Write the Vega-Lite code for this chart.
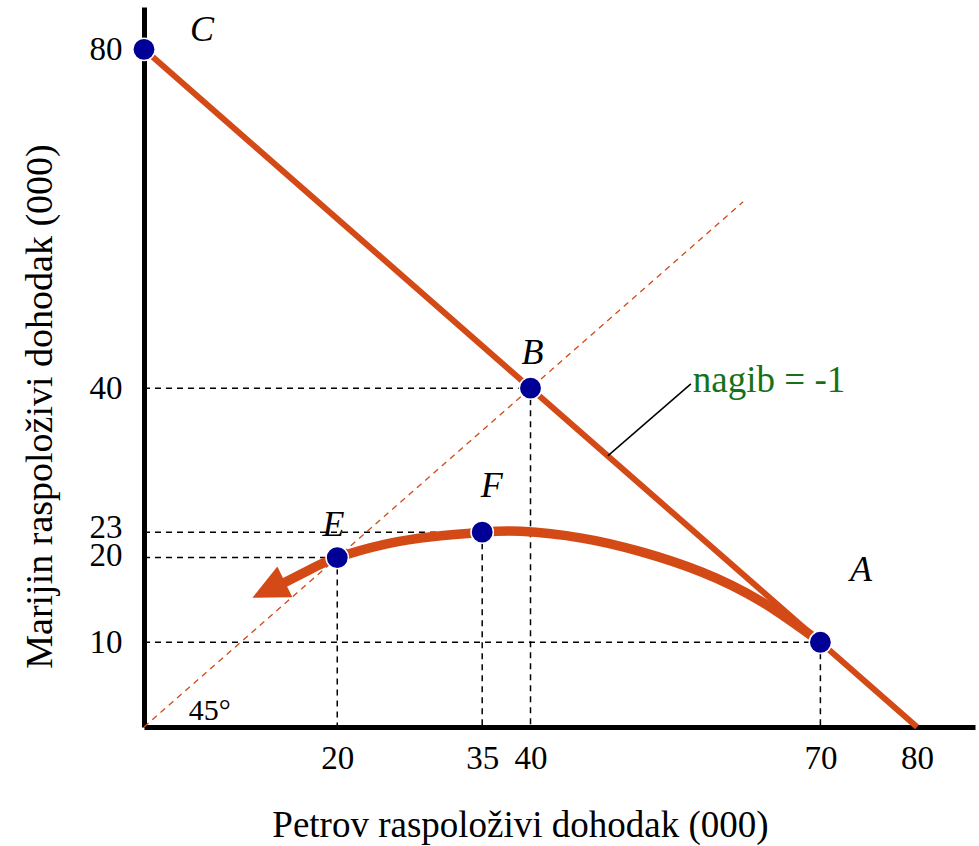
{
  "$schema": "https://vega.github.io/schema/vega-lite/v6.json",
  "width": 831,
  "height": 720,
  "autosize": "none",
  "padding": {"left": 144, "top": 7, "right": 4, "bottom": 119},
  "background": "white",
  "config": {"view": {"stroke": null}},
  "datasets": {
    "budget": [{"x": 0, "y": 80}, {"x": 80, "y": 0}],
    "diag": [{"x": 0, "y": 0}, {"x": 62, "y": 62}],
    "curve": [
      {"x": 14.3, "y": 16.9}, {"x": 17.2, "y": 18.6}, {"x": 20, "y": 20},
      {"x": 25.0, "y": 21.6}, {"x": 30.0, "y": 22.5}, {"x": 35, "y": 23},
      {"x": 39.0, "y": 23.1}, {"x": 45.3, "y": 22.3}, {"x": 51.4, "y": 20.7},
      {"x": 57.7, "y": 18.3}, {"x": 63.9, "y": 14.8}, {"x": 70, "y": 10}
    ],
    "arrow": [{"x": 12.9, "y": 16.2}],
    "guides": [
      {"x": 0, "y": 40, "x2": 40, "y2": 40}, {"x": 40, "y": 40, "x2": 40, "y2": 0},
      {"x": 0, "y": 23, "x2": 35, "y2": 23}, {"x": 35, "y": 23, "x2": 35, "y2": 0},
      {"x": 0, "y": 20, "x2": 20, "y2": 20}, {"x": 20, "y": 20, "x2": 20, "y2": 0},
      {"x": 0, "y": 10, "x2": 70, "y2": 10}, {"x": 70, "y": 10, "x2": 70, "y2": 0}
    ],
    "leader": [{"x": 48, "y": 32, "x2": 56.6, "y2": 40.5}],
    "points": [
      {"x": 0, "y": 80, "name": "C"}, {"x": 40, "y": 40, "name": "B"},
      {"x": 20, "y": 20, "name": "E"}, {"x": 35, "y": 23, "name": "F"},
      {"x": 70, "y": 10, "name": "A"}
    ],
    "letters": [
      {"x": 6.0, "y": 82.3, "label": "C"}, {"x": 40.2, "y": 44.2, "label": "B"},
      {"x": 36.0, "y": 28.4, "label": "F"}, {"x": 19.6, "y": 23.9, "label": "E"},
      {"x": 74.2, "y": 18.5, "label": "A"}
    ],
    "slope": [{"x": 56.8, "y": 40.9, "label": "nagib = -1"}],
    "angle": [{"x": 6.8, "y": 1.9, "label": "45°"}]
  },
  "encoding": {
    "x": {
      "field": "x", "type": "quantitative",
      "scale": {"domain": [0, 86], "nice": false, "zero": false},
      "axis": {
        "values": [20, 35, 40, 70, 80], "ticks": false, "grid": false,
        "domainColor": "black", "domainWidth": 5,
        "labelFont": "Liberation Serif", "labelFontSize": 33, "labelColor": "black",
        "labelPadding": 15, "labelFlush": false, "labelOverlap": false,
        "title": "Petrov raspoloživi dohodak (000)",
        "titleFont": "Liberation Serif", "titleFontSize": 37, "titleFontWeight": "normal",
        "titleColor": "black", "titleX": 376, "titleY": 98,
        "titleBaseline": "middle", "titleAlign": "center"
      }
    },
    "y": {
      "field": "y", "type": "quantitative",
      "scale": {"domain": [0, 85], "nice": false, "zero": false},
      "axis": {
        "values": [10, 20, 23, 40, 80], "ticks": false, "grid": false,
        "domainColor": "black", "domainWidth": 5,
        "labelFont": "Liberation Serif", "labelFontSize": 33, "labelColor": "black",
        "labelPadding": 22, "labelFlush": false, "labelOverlap": false,
        "labelOffset": {"condition": [{"test": "datum.value == 23", "value": -5}, {"test": "datum.value == 20", "value": -2}], "value": 0},
        "title": "Marijin raspoloživi dohodak (000)",
        "titleFont": "Liberation Serif", "titleFontSize": 38, "titleFontWeight": "normal",
        "titleColor": "black", "titleX": -104, "titleY": 399, "titleAngle": -90,
        "titleBaseline": "middle", "titleAlign": "center"
      }
    }
  },
  "layer": [
    {
      "data": {"name": "guides"},
      "mark": {"type": "rule", "color": "black", "strokeWidth": 1.5, "strokeDash": [6, 5]},
      "encoding": {"x2": {"field": "x2"}, "y2": {"field": "y2"}}
    },
    {
      "data": {"name": "diag"},
      "mark": {"type": "line", "color": "#D34A17", "strokeWidth": 1.3, "strokeDash": [6, 5]}
    },
    {
      "data": {"name": "budget"},
      "mark": {"type": "line", "color": "#D34A17", "strokeWidth": 6}
    },
    {
      "data": {"name": "curve"},
      "mark": {"type": "line", "color": "#D34A17", "strokeWidth": 9.5, "interpolate": "natural", "strokeCap": "butt"}
    },
    {
      "data": {"name": "arrow"},
      "mark": {"type": "point", "shape": "M0,-1L-0.95,1L0.95,1Z", "filled": true, "color": "#D34A17", "opacity": 1, "size": 1300, "angle": 244}
    },
    {
      "data": {"name": "leader"},
      "mark": {"type": "rule", "color": "black", "strokeWidth": 1.5},
      "encoding": {"x2": {"field": "x2"}, "y2": {"field": "y2"}}
    },
    {
      "data": {"name": "points"},
      "mark": {"type": "point", "shape": "circle", "filled": true, "fill": "#000096", "stroke": "white", "strokeWidth": 1.5, "opacity": 1, "size": 500}
    },
    {
      "data": {"name": "letters"},
      "mark": {"type": "text", "font": "Liberation Serif", "fontStyle": "italic", "fontSize": 36, "color": "black", "align": "center", "baseline": "middle"},
      "encoding": {"text": {"field": "label"}}
    },
    {
      "data": {"name": "slope"},
      "mark": {"type": "text", "font": "Liberation Serif", "fontSize": 37, "color": "#177217", "align": "left", "baseline": "middle"},
      "encoding": {"text": {"field": "label"}}
    },
    {
      "data": {"name": "angle"},
      "mark": {"type": "text", "font": "Liberation Serif", "fontSize": 30, "color": "black", "align": "center", "baseline": "middle"},
      "encoding": {"text": {"field": "label"}}
    }
  ]
}
